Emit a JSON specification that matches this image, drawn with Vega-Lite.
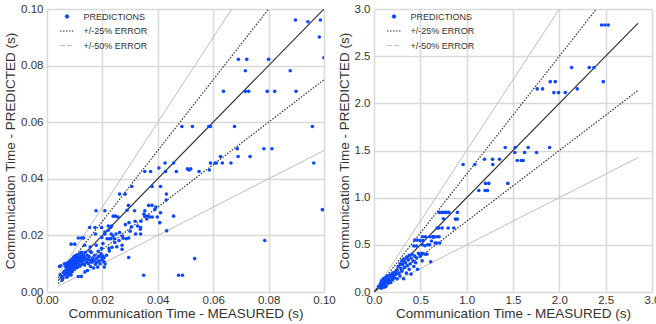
{
  "$schema": "https://vega.github.io/schema/vega-lite/v6.json",
  "padding": {"left": 3, "top": 3, "right": 5, "bottom": 2},
  "background": "white",
  "bounds": "flush",
  "spacing": 50,
  "config": {
    "view": {"stroke": null},
    "axis": {
      "grid": true, "gridColor": "#d9d9d9", "gridWidth": 1.5, "domain": false, "ticks": false,
      "labelFont": "Liberation Sans, Arial, sans-serif", "labelFontSize": 11.5, "labelColor": "#333",
      "titleFont": "Liberation Sans, Arial, sans-serif", "titleFontSize": 13.5, "titleColor": "#333", "titleFontWeight": "normal",
      "labelPadding": 4, "titlePadding": 3, "labelOverlap": false, "labelFlush": false
    },
    "axisX": {"labelPadding": 2, "titlePadding": 1},
    "legend": {
      "orient": "none", "legendX": 12.5, "legendY": 0, "title": null, "padding": 0,
      "labelFont": "Liberation Sans, Arial, sans-serif", "labelFontSize": 9, "labelColor": "#333",
      "symbolSize": 121, "labelOffset": 9, "rowPadding": 1.5,
      "symbolType": "stroke"
    }
  },
  "datasets": {
    "leftPts": [
      {"x":0.0897,"y":0.0961},{"x":0.0942,"y":0.0955},{"x":0.0987,"y":0.0961},{"x":0.0983,"y":0.0901},{"x":0.1,"y":0.0828},
      {"x":0.0691,"y":0.0822},{"x":0.0721,"y":0.0822},{"x":0.08,"y":0.0822},{"x":0.0716,"y":0.0782},{"x":0.0878,"y":0.0782},
      {"x":0.0637,"y":0.0709},{"x":0.0716,"y":0.0709},{"x":0.0728,"y":0.0709},{"x":0.0795,"y":0.0709},{"x":0.0822,"y":0.0709},{"x":0.0899,"y":0.0709},
      {"x":0.0487,"y":0.0585},{"x":0.0525,"y":0.0585},{"x":0.0584,"y":0.0585},{"x":0.059,"y":0.0585},{"x":0.0677,"y":0.0585},{"x":0.0958,"y":0.0585},
      {"x":0.0687,"y":0.0506},{"x":0.0783,"y":0.0506},{"x":0.0812,"y":0.0506},{"x":0.069,"y":0.0479},{"x":0.0733,"y":0.0479},{"x":0.0626,"y":0.0479},
      {"x":0.0426,"y":0.0456},{"x":0.0457,"y":0.0456},{"x":0.059,"y":0.0456},{"x":0.0607,"y":0.0456},{"x":0.0611,"y":0.0456},{"x":0.0633,"y":0.0456},{"x":0.0664,"y":0.0456},{"x":0.0963,"y":0.0456},
      {"x":0.0404,"y":0.0438},{"x":0.0507,"y":0.0435},{"x":0.0513,"y":0.0431},{"x":0.0519,"y":0.0435},{"x":0.0586,"y":0.0431},
      {"x":0.0353,"y":0.0426},{"x":0.0374,"y":0.0426},{"x":0.0428,"y":0.0426},{"x":0.0467,"y":0.0426},{"x":0.0549,"y":0.0426},
      {"x":0.0379,"y":0.0373},{"x":0.041,"y":0.0373},{"x":0.0306,"y":0.0373},{"x":0.0262,"y":0.0346},{"x":0.0282,"y":0.0346},{"x":0.0431,"y":0.0346},
      {"x":0.0294,"y":0.0306},{"x":0.0367,"y":0.0306},{"x":0.0379,"y":0.0306},{"x":0.0389,"y":0.0291},{"x":0.0353,"y":0.0287},{"x":0.0316,"y":0.0287},
      {"x":0.0289,"y":0.0289},{"x":0.0209,"y":0.0287},{"x":0.0177,"y":0.0287},{"x":0.0994,"y":0.0291},
      {"x":0.0353,"y":0.0268},{"x":0.0365,"y":0.0268},{"x":0.0371,"y":0.0265},{"x":0.0457,"y":0.0268},{"x":0.0398,"y":0.0265},
      {"x":0.0239,"y":0.0268},{"x":0.0247,"y":0.0268},{"x":0.0256,"y":0.0265},{"x":0.0407,"y":0.0245},{"x":0.0296,"y":0.0245},{"x":0.0283,"y":0.0238},
      {"x":0.0338,"y":0.0228},{"x":0.0337,"y":0.0222},{"x":0.0432,"y":0.0216},{"x":0.032,"y":0.0205},{"x":0.0338,"y":0.0205},{"x":0.0272,"y":0.0198},
      {"x":0.0286,"y":0.0188},{"x":0.0295,"y":0.0191},{"x":0.0271,"y":0.0165},{"x":0.0271,"y":0.0151},{"x":0.0295,"y":0.0122},{"x":0.0533,"y":0.0118},
      {"x":0.0786,"y":0.0182},{"x":0.0349,"y":0.0059},{"x":0.0475,"y":0.0059},{"x":0.0489,"y":0.0059},
      {"x":0.0154,"y":0.0228},{"x":0.0173,"y":0.0228},{"x":0.0197,"y":0.0228},{"x":0.023,"y":0.0228},{"x":0.0221,"y":0.0233},{"x":0.0233,"y":0.0233},
      {"x":0.0221,"y":0.0218},{"x":0.0209,"y":0.0212},{"x":0.0175,"y":0.0205},{"x":0.0209,"y":0.0205},{"x":0.0232,"y":0.0205},{"x":0.0198,"y":0.0193},
      {"x":0.0217,"y":0.0188},{"x":0.0224,"y":0.0188},{"x":0.0113,"y":0.0191},{"x":0.0125,"y":0.0191},{"x":0.0132,"y":0.0191},{"x":0.0231,"y":0.0188},{"x":0.0244,"y":0.0188},
      {"x":0.0087,"y":0.0169},{"x":0.01,"y":0.0169},{"x":0.0136,"y":0.0165},{"x":0.0156,"y":0.0159},{"x":0.0202,"y":0.0171},{"x":0.0197,"y":0.0154},{"x":0.0224,"y":0.0154},
      {"x":0.0178,"y":0.0165},{"x":0.0156,"y":0.0144},{"x":0.0185,"y":0.0144},{"x":0.0202,"y":0.0127},{"x":0.0206,"y":0.0121},{"x":0.0189,"y":0.0126},
      {"x":0.0162,"y":0.0115},{"x":0.0198,"y":0.0113},{"x":0.0183,"y":0.0088},{"x":0.0207,"y":0.0088},{"x":0.0146,"y":0.0076},{"x":0.0137,"y":0.0071},
      {"x":0.0113,"y":0.0055},{"x":0.0124,"y":0.0055},
      {"x":0.0045,"y":0.009},{"x":0.005,"y":0.0093},{"x":0.0048,"y":0.0061},{"x":0.0052,"y":0.0055},{"x":0.0055,"y":0.0042},{"x":0.0058,"y":0.005},
      {"x":0.006,"y":0.0068},{"x":0.0062,"y":0.0072},{"x":0.0063,"y":0.01},{"x":0.0065,"y":0.0098},{"x":0.0066,"y":0.006},{"x":0.0068,"y":0.0088},
      {"x":0.007,"y":0.0093},{"x":0.007,"y":0.0078},{"x":0.0072,"y":0.0052},{"x":0.0073,"y":0.0066},{"x":0.0074,"y":0.0102},{"x":0.0075,"y":0.0085},
      {"x":0.0076,"y":0.007},{"x":0.0077,"y":0.0095},{"x":0.0078,"y":0.008},{"x":0.0079,"y":0.006},{"x":0.008,"y":0.0105},{"x":0.0081,"y":0.009},
      {"x":0.0082,"y":0.0075},{"x":0.0083,"y":0.0068},{"x":0.0084,"y":0.011},{"x":0.0085,"y":0.0098},{"x":0.0086,"y":0.0082},{"x":0.0087,"y":0.006},
      {"x":0.0088,"y":0.01},{"x":0.0089,"y":0.0115},{"x":0.009,"y":0.0088},{"x":0.0091,"y":0.0072},{"x":0.0092,"y":0.0105},{"x":0.0093,"y":0.0095},
      {"x":0.0094,"y":0.012},{"x":0.0095,"y":0.008},{"x":0.0096,"y":0.011},{"x":0.0097,"y":0.0124},{"x":0.0098,"y":0.01},{"x":0.0099,"y":0.009},
      {"x":0.01,"y":0.0118},{"x":0.0101,"y":0.0105},{"x":0.0102,"y":0.0128},{"x":0.0103,"y":0.0085},{"x":0.0104,"y":0.0112},{"x":0.0105,"y":0.0095},
      {"x":0.0106,"y":0.012},{"x":0.0108,"y":0.013},{"x":0.0109,"y":0.0102},{"x":0.011,"y":0.0115},{"x":0.0111,"y":0.0088},{"x":0.0112,"y":0.0125},
      {"x":0.0113,"y":0.0108},{"x":0.0115,"y":0.0118},{"x":0.0116,"y":0.0098},{"x":0.0118,"y":0.0135},{"x":0.0119,"y":0.0112},{"x":0.012,"y":0.0092},
      {"x":0.0122,"y":0.0125},{"x":0.0124,"y":0.0108},{"x":0.0125,"y":0.014},{"x":0.0127,"y":0.0118},{"x":0.0128,"y":0.01},{"x":0.013,"y":0.013},
      {"x":0.0132,"y":0.0112},{"x":0.0134,"y":0.0125},{"x":0.0136,"y":0.0095},{"x":0.0138,"y":0.014},{"x":0.014,"y":0.0118},{"x":0.0142,"y":0.0105},
      {"x":0.0145,"y":0.013},{"x":0.0148,"y":0.0115},{"x":0.015,"y":0.01},{"x":0.0152,"y":0.0125},{"x":0.0155,"y":0.011},{"x":0.0157,"y":0.009},
      {"x":0.016,"y":0.014},{"x":0.0162,"y":0.0105},{"x":0.0165,"y":0.012},{"x":0.0168,"y":0.0085},{"x":0.017,"y":0.011},{"x":0.0172,"y":0.013},
      {"x":0.0175,"y":0.0098},{"x":0.0178,"y":0.0118},{"x":0.018,"y":0.0105},{"x":0.0185,"y":0.0125},{"x":0.0188,"y":0.011},{"x":0.0192,"y":0.01},
      {"x":0.0195,"y":0.0135},{"x":0.0199,"y":0.012},{"x":0.0205,"y":0.0108},{"x":0.021,"y":0.01},{"x":0.0215,"y":0.013},{"x":0.0225,"y":0.0145},
      {"x":0.0235,"y":0.0158},{"x":0.0245,"y":0.0175},{"x":0.0252,"y":0.016},{"x":0.026,"y":0.0182},{"x":0.0238,"y":0.0198},{"x":0.0249,"y":0.0205},
      {"x":0.0262,"y":0.021},{"x":0.0275,"y":0.019},{"x":0.03,"y":0.0215},{"x":0.0305,"y":0.023},{"x":0.0318,"y":0.025},{"x":0.0327,"y":0.0233},
      {"x":0.0339,"y":0.025},{"x":0.035,"y":0.0275},{"x":0.036,"y":0.0258},{"x":0.038,"y":0.0265},{"x":0.0393,"y":0.03},{"x":0.041,"y":0.028},{"x":0.043,"y":0.0325}
    ],
    "rightPts": [
      {"x":2.456,"y":2.83},{"x":2.492,"y":2.83},{"x":2.528,"y":2.83},
      {"x":2.133,"y":2.379},{"x":2.323,"y":2.379},{"x":2.373,"y":2.379},
      {"x":1.902,"y":2.23},{"x":1.956,"y":2.23},{"x":2.474,"y":2.23},
      {"x":1.761,"y":2.153},{"x":1.819,"y":2.153},{"x":2.193,"y":2.153},
      {"x":1.941,"y":2.114},{"x":1.992,"y":2.114},{"x":2.064,"y":2.114},
      {"x":0.962,"y":1.352},{"x":1.088,"y":1.352},{"x":1.192,"y":1.408},{"x":1.279,"y":1.408},{"x":1.354,"y":1.408},{"x":1.282,"y":1.352},
      {"x":1.416,"y":1.532},{"x":1.524,"y":1.532},{"x":1.664,"y":1.532},{"x":1.895,"y":1.532},
      {"x":1.52,"y":1.479},{"x":1.625,"y":1.479},{"x":1.754,"y":1.479},
      {"x":1.545,"y":1.394},{"x":1.588,"y":1.394},{"x":1.61,"y":1.394},
      {"x":1.203,"y":1.151},{"x":1.239,"y":1.151},{"x":1.444,"y":1.151},
      {"x":1.131,"y":1.076},{"x":1.199,"y":1.076},{"x":1.225,"y":1.076},
      {"x":0.702,"y":0.844},{"x":0.731,"y":0.844},{"x":0.757,"y":0.844},{"x":0.782,"y":0.844},{"x":0.807,"y":0.844},{"x":0.9,"y":0.844},
      {"x":0.749,"y":0.776},{"x":0.879,"y":0.773},{"x":0.9,"y":0.773},
      {"x":0.681,"y":0.678},{"x":0.699,"y":0.678},{"x":0.735,"y":0.678},{"x":0.8,"y":0.678},{"x":0.861,"y":0.678},
      {"x":0.522,"y":0.586},{"x":0.555,"y":0.586},{"x":0.601,"y":0.586},{"x":0.634,"y":0.586},{"x":0.656,"y":0.586},{"x":0.684,"y":0.586},{"x":0.702,"y":0.586},
      {"x":0.674,"y":0.519},{"x":0.71,"y":0.519},
      {"x":0.44,"y":0.55},{"x":0.468,"y":0.55},{"x":0.497,"y":0.545},{"x":0.53,"y":0.545},
      {"x":0.429,"y":0.487},{"x":0.458,"y":0.487},{"x":0.522,"y":0.501},{"x":0.58,"y":0.501},
      {"x":0.49,"y":0.402},{"x":0.548,"y":0.402},{"x":0.612,"y":0.321},
      {"x":0.05,"y":0.06},{"x":0.06,"y":0.05},{"x":0.07,"y":0.09},{"x":0.08,"y":0.04},{"x":0.08,"y":0.12},{"x":0.09,"y":0.07},
      {"x":0.1,"y":0.1},{"x":0.1,"y":0.14},{"x":0.11,"y":0.05},{"x":0.11,"y":0.08},{"x":0.12,"y":0.12},{"x":0.12,"y":0.15},
      {"x":0.13,"y":0.06},{"x":0.13,"y":0.1},{"x":0.14,"y":0.13},{"x":0.14,"y":0.17},{"x":0.15,"y":0.09},{"x":0.15,"y":0.11},
      {"x":0.16,"y":0.14},{"x":0.17,"y":0.18},{"x":0.17,"y":0.12},{"x":0.18,"y":0.1},{"x":0.19,"y":0.16},{"x":0.2,"y":0.2},
      {"x":0.2,"y":0.13},{"x":0.21,"y":0.18},{"x":0.22,"y":0.15},{"x":0.23,"y":0.21},{"x":0.24,"y":0.19},{"x":0.25,"y":0.23},
      {"x":0.25,"y":0.14},{"x":0.26,"y":0.27},{"x":0.27,"y":0.2},{"x":0.28,"y":0.3},{"x":0.28,"y":0.17},{"x":0.29,"y":0.25},
      {"x":0.3,"y":0.33},{"x":0.3,"y":0.22},{"x":0.31,"y":0.29},{"x":0.32,"y":0.35},{"x":0.32,"y":0.14},{"x":0.33,"y":0.26},
      {"x":0.34,"y":0.31},{"x":0.35,"y":0.37},{"x":0.35,"y":0.2},{"x":0.36,"y":0.28},{"x":0.37,"y":0.34},{"x":0.38,"y":0.39},
      {"x":0.38,"y":0.24},{"x":0.39,"y":0.3},{"x":0.4,"y":0.36},{"x":0.4,"y":0.19},{"x":0.41,"y":0.4},{"x":0.42,"y":0.33},
      {"x":0.43,"y":0.27},{"x":0.44,"y":0.38},{"x":0.45,"y":0.31},{"x":0.46,"y":0.36},{"x":0.47,"y":0.24},{"x":0.48,"y":0.41},
      {"x":0.5,"y":0.38},{"x":0.52,"y":0.41},{"x":0.52,"y":0.33},{"x":0.55,"y":0.49},{"x":0.57,"y":0.4},{"x":0.6,"y":0.5},
      {"x":0.62,"y":0.54},{"x":0.64,"y":0.58},{"x":0.66,"y":0.52}
    ],
    "lines": [
      {"panel":"L","series":"+/-25% ERROR","side":"u","x":0.004,"y":0.005},{"panel":"L","series":"+/-25% ERROR","side":"u","x":0.08,"y":0.1},
      {"panel":"L","series":"+/-25% ERROR","side":"l","x":0.004,"y":0.003},{"panel":"L","series":"+/-25% ERROR","side":"l","x":0.1,"y":0.075},
      {"panel":"L","series":"+/-50% ERROR","side":"u","x":0.004,"y":0.006},{"panel":"L","series":"+/-50% ERROR","side":"u","x":0.0667,"y":0.1},
      {"panel":"L","series":"+/-50% ERROR","side":"l","x":0.004,"y":0.002},{"panel":"L","series":"+/-50% ERROR","side":"l","x":0.1,"y":0.05},
      {"panel":"L","series":"1:1","side":"m","x":0.004,"y":0.004},{"panel":"L","series":"1:1","side":"m","x":0.1,"y":0.1},
      {"panel":"R","series":"+/-25% ERROR","side":"u","x":0,"y":0},{"panel":"R","series":"+/-25% ERROR","side":"u","x":2.4,"y":3.0},
      {"panel":"R","series":"+/-25% ERROR","side":"l","x":0,"y":0},{"panel":"R","series":"+/-25% ERROR","side":"l","x":2.85,"y":2.1375},
      {"panel":"R","series":"+/-50% ERROR","side":"u","x":0,"y":0},{"panel":"R","series":"+/-50% ERROR","side":"u","x":2.0,"y":3.0},
      {"panel":"R","series":"+/-50% ERROR","side":"l","x":0,"y":0},{"panel":"R","series":"+/-50% ERROR","side":"l","x":2.85,"y":1.425},
      {"panel":"R","series":"1:1","side":"m","x":0,"y":0},{"panel":"R","series":"1:1","side":"m","x":2.85,"y":2.85}
    ]
  },
  "resolve": {"scale": {"color": "independent", "x": "independent", "y": "independent"}},
  "hconcat": [
    {
      "width": 277, "height": 283,
      "layer": [
        {
          "data": {"name": "lines"},
          "transform": [{"filter": "datum.panel === 'L' && datum.series === '+/-50% ERROR'"}],
          "mark": {"type": "line", "strokeWidth": 1, "clip": true},
          "encoding": {
            "x": {"field": "x", "type": "quantitative", "scale": {"domain": [0, 0.1], "nice": false}, "axis": {"values": [0, 0.02, 0.04, 0.06, 0.08, 0.1], "format": ".2f", "title": "Communication Time - MEASURED (s)"}},
            "y": {"field": "y", "type": "quantitative", "scale": {"domain": [0, 0.1], "nice": false}, "axis": {"values": [0, 0.02, 0.04, 0.06, 0.08, 0.1], "format": ".2f", "title": "Communication Time - PREDICTED (s)"}},
            "detail": {"field": "side"},
            "color": {"field": "series", "type": "nominal", "scale": {"domain": ["PREDICTIONS", "+/-25% ERROR", "+/-50% ERROR"], "range": ["#0a48ff", "#333333", "#bdbdbd"]},
              "legend": {"encode": {"symbols": {"update": {
                "shape": {"signal": "datum.value === 'PREDICTIONS' ? 'circle' : 'stroke'"},
                "size": {"signal": "datum.value === 'PREDICTIONS' ? 12 : 196"},
                "fill": {"signal": "datum.value === 'PREDICTIONS' ? '#0a48ff' : 'transparent'"},
                "stroke": {"signal": "datum.value === 'PREDICTIONS' ? 'transparent' : datum.value === '+/-25% ERROR' ? '#333333' : '#bdbdbd'"},
                "strokeDash": {"signal": "datum.value === '+/-25% ERROR' ? [1.5, 1.5] : datum.value === '+/-50% ERROR' ? [5, 2] : [1, 0]"},
                "strokeWidth": {"value": 1}
              }}}}}
          }
        },
        {
          "data": {"name": "lines"},
          "transform": [{"filter": "datum.panel === 'L' && datum.series === '+/-25% ERROR'"}],
          "mark": {"type": "line", "strokeWidth": 1.2, "strokeDash": [1.5, 1.5], "clip": true},
          "encoding": {
            "x": {"field": "x", "type": "quantitative"},
            "y": {"field": "y", "type": "quantitative"},
            "detail": {"field": "side"},
            "color": {"field": "series", "type": "nominal"}
          }
        },
        {
          "data": {"name": "lines"},
          "transform": [{"filter": "datum.panel === 'L' && datum.series === '1:1'"}],
          "mark": {"type": "line", "strokeWidth": 1.2, "color": "#333333", "clip": true},
          "encoding": {
            "x": {"field": "x", "type": "quantitative"},
            "y": {"field": "y", "type": "quantitative"}
          }
        },
        {
          "data": {"name": "leftPts"},
          "mark": {"type": "point", "filled": true, "size": 13, "opacity": 1, "clip": true},
          "encoding": {
            "x": {"field": "x", "type": "quantitative"},
            "y": {"field": "y", "type": "quantitative"},
            "color": {"datum": "PREDICTIONS", "type": "nominal"}
          }
        }
      ]
    },
    {
      "width": 278, "height": 283,
      "layer": [
        {
          "data": {"name": "lines"},
          "transform": [{"filter": "datum.panel === 'R' && datum.series === '+/-50% ERROR'"}],
          "mark": {"type": "line", "strokeWidth": 1, "clip": true},
          "encoding": {
            "x": {"field": "x", "type": "quantitative", "scale": {"domain": [0, 3], "nice": false}, "axis": {"values": [0, 0.5, 1, 1.5, 2, 2.5, 3], "format": ".1f", "title": "Communication Time - MEASURED (s)"}},
            "y": {"field": "y", "type": "quantitative", "scale": {"domain": [0, 3], "nice": false}, "axis": {"values": [0, 0.5, 1, 1.5, 2, 2.5, 3], "format": ".1f", "title": "Communication Time - PREDICTED (s)"}},
            "detail": {"field": "side"},
            "color": {"field": "series", "type": "nominal", "scale": {"domain": ["PREDICTIONS", "+/-25% ERROR", "+/-50% ERROR"], "range": ["#0a48ff", "#333333", "#bdbdbd"]},
              "legend": {"encode": {"symbols": {"update": {
                "shape": {"signal": "datum.value === 'PREDICTIONS' ? 'circle' : 'stroke'"},
                "size": {"signal": "datum.value === 'PREDICTIONS' ? 12 : 196"},
                "fill": {"signal": "datum.value === 'PREDICTIONS' ? '#0a48ff' : 'transparent'"},
                "stroke": {"signal": "datum.value === 'PREDICTIONS' ? 'transparent' : datum.value === '+/-25% ERROR' ? '#333333' : '#bdbdbd'"},
                "strokeDash": {"signal": "datum.value === '+/-25% ERROR' ? [1.5, 1.5] : datum.value === '+/-50% ERROR' ? [5, 2] : [1, 0]"},
                "strokeWidth": {"value": 1}
              }}}}}
          }
        },
        {
          "data": {"name": "lines"},
          "transform": [{"filter": "datum.panel === 'R' && datum.series === '+/-25% ERROR'"}],
          "mark": {"type": "line", "strokeWidth": 1.2, "strokeDash": [1.5, 1.5], "clip": true},
          "encoding": {
            "x": {"field": "x", "type": "quantitative"},
            "y": {"field": "y", "type": "quantitative"},
            "detail": {"field": "side"},
            "color": {"field": "series", "type": "nominal"}
          }
        },
        {
          "data": {"name": "lines"},
          "transform": [{"filter": "datum.panel === 'R' && datum.series === '1:1'"}],
          "mark": {"type": "line", "strokeWidth": 1.2, "color": "#333333", "clip": true},
          "encoding": {
            "x": {"field": "x", "type": "quantitative"},
            "y": {"field": "y", "type": "quantitative"}
          }
        },
        {
          "data": {"name": "rightPts"},
          "mark": {"type": "point", "filled": true, "size": 13, "opacity": 1, "clip": true},
          "encoding": {
            "x": {"field": "x", "type": "quantitative"},
            "y": {"field": "y", "type": "quantitative"},
            "color": {"datum": "PREDICTIONS", "type": "nominal"}
          }
        }
      ]
    }
  ]
}
